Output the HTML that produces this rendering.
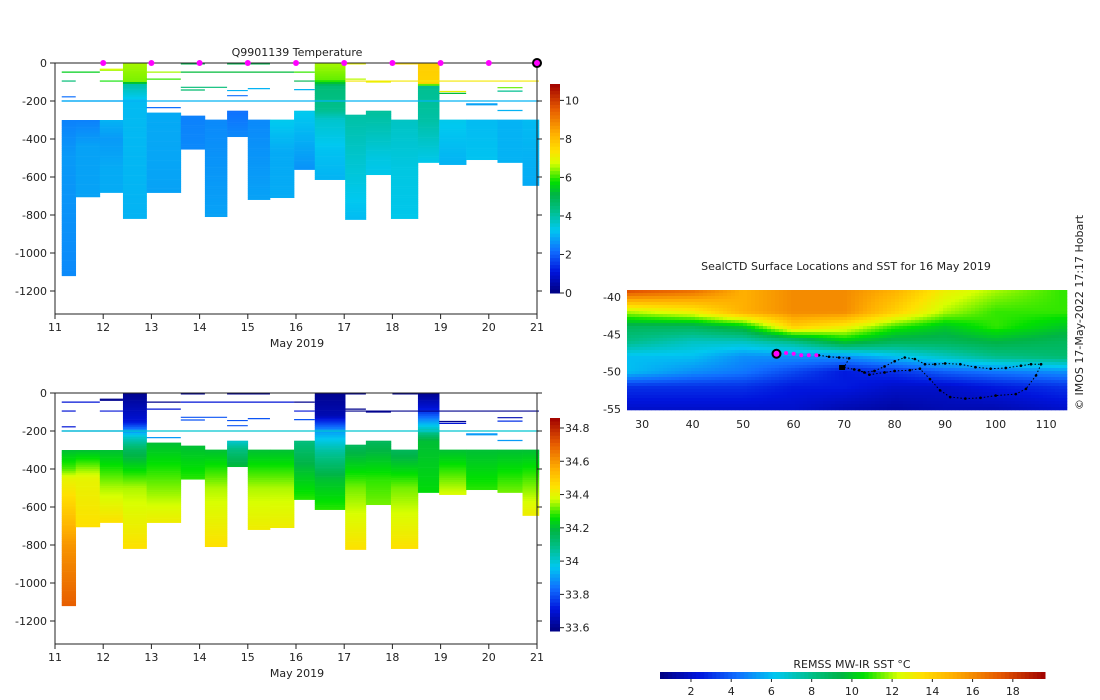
<!DOCTYPE html>
<html><head><meta charset="utf-8">
<style>
body{margin:0;background:#fff;}
svg{display:block;font-family:"DejaVu Sans","Liberation Sans",sans-serif;}
text{fill:#222;font-size:11px;}
</style></head>
<body>
<svg id="fig" width="1100" height="700" viewBox="0 0 1100 700" xmlns="http://www.w3.org/2000/svg">
<g id="top"></g>
<g id="bot"></g>
<g id="map"></g>
</svg>
<script>
// ---- profile data ----
const profStart=[11.14,11.43,11.93,12.41,12.90,13.61,14.11,14.57,15.00,15.46,15.96,16.39,17.02,17.45,17.97,18.53,18.97,19.53,20.18,20.70];
const profEnd=[11.43,11.93,12.41,12.90,13.61,14.11,14.57,15.00,15.46,15.96,16.39,17.02,17.45,17.97,18.53,18.97,19.53,20.18,20.70,21.04];
const profTemp=[
[[300,2.4],[490,2.7],[1120,2.5]],
[[300,2.4],[440,2.8],[705,2.8]],
[[300,3.0],[400,2.7],[550,2.9],[682,2.9]],
[[0,6.5],[100,6.3],[112,4],[200,3.1],[819,3.0]],
[[261,2.9],[682,2.8]],
[[277,2.4],[454,2.5]],
[[298,2.5],[809,2.8]],
[[251,2.2],[388,2.5]],
[[298,2.5],[719,2.8]],
[[298,3.3],[470,2.9],[709,2.9]],
[[251,3.3],[561,2.6]],
[[0,6.5],[90,6.2],[120,4.5],[250,4.2],[300,3.6],[450,3.2],[614,3.0]],
[[272,4.0],[500,3.6],[824,3.1]],
[[251,4.1],[500,3.4],[588,3.3]],
[[298,3.7],[550,3.4],[819,3.3]],
[[0,7.7],[110,7.6],[122,4.2],[300,4.0],[524,3.3]],
[[298,3.3],[535,3.0]],
[[298,3.1],[509,3.2]],
[[298,3.0],[524,3.0]],
[[298,3.1],[645,2.9]]];
const profSal=[
[[300,34.2],[400,34.3],[450,34.4],[800,34.6],[1120,34.7]],
[[300,34.2],[450,34.4],[705,34.45]],
[[300,34.2],[500,34.35],[682,34.45]],
[[0,33.6],[150,33.7],[230,34.0],[300,34.15],[500,34.35],[819,34.45]],
[[261,34.2],[450,34.3],[682,34.42]],
[[277,34.2],[454,34.28]],
[[298,34.2],[500,34.35],[809,34.45]],
[[251,34.0],[300,34.1],[388,34.2]],
[[298,34.2],[500,34.35],[719,34.42]],
[[298,34.2],[500,34.35],[709,34.42]],
[[251,34.1],[400,34.2],[561,34.28]],
[[0,33.6],[120,33.65],[200,33.9],[300,34.05],[450,34.2],[614,34.28]],
[[272,34.15],[500,34.32],[824,34.45]],
[[251,34.15],[450,34.28],[588,34.32]],
[[298,34.15],[500,34.32],[819,34.45]],
[[0,33.6],[80,33.7],[150,33.9],[250,34.2],[524,34.25]],
[[298,34.2],[535,34.38]],
[[298,34.2],[509,34.28]],
[[298,34.2],[524,34.32]],
[[298,34.2],[645,34.42]]];
// thin near-surface records: start day, end day, depth, temp, salinity
const lineStart=[11.14,11.93,11.93,11.93,11.14,11.14,11.14,12.9,12.9,12.9,13.61,13.61,13.61,13.61,14.57,14.57,15.0,14.57,15.96,15.96,15.96,17.02,17.02,17.45,17.02,18.97,18.97,19.53,19.53,20.18,20.18,20.18,18.0,11.14];
const lineEnd  =[11.93,12.41,12.41,12.41,11.43,11.43,12.41,13.61,13.61,13.61,14.11,15.96,14.57,14.11,15.0,15.0,15.46,15.46,16.39,16.39,16.39,17.45,17.45,17.97,21.04,19.53,19.53,20.18,20.18,20.7,20.7,20.7,18.53,21.04];
const lineDepth=[48,38,33,95,95,178,200,48,85,235,5,48,128,142,145,172,135,5,48,95,140,5,85,100,95,150,160,215,220,130,148,250,5,200];
const lineTemp =[5.5,6.5,6.8,5.8,4.5,2.2,2.2,6.5,6.0,2.2,5.0,5.2,4.5,4.6,3.0,2.2,3.0,5.0,6.0,5.0,3.0,7.0,6.6,7.0,7.2,7.0,5.2,2.8,2.8,6.2,4.2,3.0,7.5,3.0];
const lineSal  =[33.7,33.6,33.6,33.7,33.7,33.7,33.8,33.6,33.7,33.9,33.6,33.7,33.8,33.8,33.8,33.8,33.8,33.6,33.6,33.7,33.8,33.6,33.6,33.6,33.6,33.6,33.7,33.9,33.9,33.65,33.75,33.9,33.6,34.0];
const markerDays=[12,13,14,15,16,17,18,19,20,21];
const xTicks=[11,12,13,14,15,16,17,18,19,20,21];
const yTicks=[0,-200,-400,-600,-800,-1000,-1200];
const tempTicks=[0,2,4,6,8,10];
const salTicks=[33.6,33.8,34,34.2,34.4,34.6,34.8];
// ---- map data ----
const gridLon=[27,40,50,60,70,80,90,100,113];
const gridLat=[-39,-42,-44,-46,-48,-50,-52,-55];
const gridSST=[
[18,17,15,16,16,15,13,12,11],
[12,13,15,16,16,14,12,11,11],
[9,9,10,14,13,11,10,11,10],
[8,7,7,8,10,9,9,9.5,9],
[6,6,5,5,5,6,7,8,8.5],
[6,5,4.5,3.5,2.5,3,4,4.5,5],
[3,3,3,2.5,2.5,2,2,2.5,3],
[2,2,2,2,1.5,1.2,1.5,1.5,2]];
const trackLon=[65,67,69,71,70,72,74,76,78,80,82,84,86,88,90,93,96,99,102,105,107,109,108,106,104,100,97,94,91,89,87,85,83,80,78,75,73];
const trackLat=[-47.8,-48,-48.1,-48.2,-49.4,-49.7,-50.1,-49.9,-49.3,-48.6,-48.1,-48.3,-49,-49,-48.9,-49,-49.4,-49.6,-49.5,-49.2,-49,-49,-50.5,-52.3,-53,-53.2,-53.5,-53.6,-53.4,-52.5,-51,-49.6,-49.8,-49.9,-50.1,-50.4,-49.8];
const recentLon=[57,58.5,60,61.5,63,64.5];
const recentLat=[-47.6,-47.5,-47.6,-47.8,-47.8,-47.8];
const lonTicks=[30,40,50,60,70,80,90,100,110];
const latTicks=[-40,-45,-50,-55];
const sstTicks=[2,4,6,8,10,12,14,16,18];

const NS='http://www.w3.org/2000/svg';
function mk(parent,tag,attrs){const e=document.createElementNS(NS,tag);for(const k in attrs)e.setAttribute(k,attrs[k]);parent.appendChild(e);return e;}
const stops=[[0,[0,0,128]],[0.1,[0,20,220]],[0.2,[16,110,255]],[0.3,[0,200,240]],[0.4,[0,190,130]],[0.47,[0,180,70]],[0.53,[0,224,0]],[0.62,[216,255,0]],[0.68,[255,224,0]],[0.76,[255,176,0]],[0.88,[230,90,0]],[1,[160,0,0]]];
function cmap(f){f=Math.max(0,Math.min(1,f));for(let i=1;i<stops.length;i++){if(f<=stops[i][0]){const a=stops[i-1],b=stops[i];const t=(f-a[0])/(b[0]-a[0]);const c=a[1].map((v,j)=>Math.round(v+(b[1][j]-v)*t));return `rgb(${c[0]},${c[1]},${c[2]})`;}}return 'rgb(160,0,0)';}
function interp(p,d){if(d<=p[0][0])return p[0][1];for(let i=1;i<p.length;i++){if(d<=p[i][0]){const t=(d-p[i-1][0])/(p[i][0]-p[i-1][0]);return p[i-1][1]+t*(p[i][1]-p[i-1][1]);}}return p[p.length-1][1];}

function panel(g,y0,vmin,vmax,profs,lineVals,title,cbTop,cbBot,cbTicks,fmt){
  const X0=55,X1=537,Y0=y0,Y1=y0+251;
  const xs=d=>X0+(d-11)*(X1-X0)/10;
  const ys=z=>Y0+(-z)*(251/1321);
  const cf=v=>cmap((v-vmin)/(vmax-vmin));
  mk(g,'rect',{x:X0,y:Y0,width:X1-X0,height:Y1-Y0,fill:'#fff'});
  profs.forEach((p,i)=>{
    const top=p[0][0],bot=p[p.length-1][0];
    for(let d=top;d<bot;d+=10){
      const r=mk(g,'rect',{x:xs(profStart[i]),y:ys(-d),width:xs(profEnd[i])-xs(profStart[i])+0.3,height:ys(-Math.min(d+10,bot))-ys(-d)+0.3,fill:cf(interp(p,d+5))});
      
      
    }
  });
  lineStart.forEach((s,i)=>{
    const l=mk(g,'line',{x1:xs(s),x2:xs(lineEnd[i]),y1:ys(-lineDepth[i]),y2:ys(-lineDepth[i]),stroke:cf(lineVals[i]),'stroke-width':1.2});
    
    
  });
  mk(g,'rect',{x:X0,y:Y0,width:X1-X0,height:Y1-Y0,fill:'none',stroke:'#222','stroke-width':1});
  xTicks.forEach(t=>{mk(g,'line',{x1:xs(t),x2:xs(t),y1:Y1,y2:Y1+5,stroke:'#222'});const tx=mk(g,'text',{x:xs(t),y:Y1+17,'text-anchor':'middle'});tx.textContent=t;});
  yTicks.forEach(t=>{mk(g,'line',{x1:X0-5,x2:X0,y1:ys(t),y2:ys(t),stroke:'#222'});mk(g,'line',{x1:X1,x2:X1+5,y1:ys(t),y2:ys(t),stroke:'#222'});const tx=mk(g,'text',{x:X0-8,y:ys(t)+4,'text-anchor':'end'});tx.textContent=t;});
  const xl=mk(g,'text',{x:297,y:Y1+33,'text-anchor':'middle'});xl.textContent='May 2019';
  if(title){const tt=mk(g,'text',{x:297,y:Y0-7,'text-anchor':'middle','font-size':'12'});tt.textContent=title;
    markerDays.forEach((d,i)=>{const last=i===markerDays.length-1;const c=mk(g,'circle',{cx:xs(d),cy:Y0,r:last?4:3,fill:'#f0f',stroke:last?'#000':'none','stroke-width':2});});}
  const cb=mk(g,'g',{});
  const n=60;for(let i=0;i<n;i++){mk(cb,'rect',{x:550,y:cbTop+(cbBot-cbTop)*i/n,width:10,height:(cbBot-cbTop)/n+0.5,fill:cmap(1-(i+0.5)/n)});}
  const cy=v=>cbBot-(v-vmin)/(vmax-vmin)*(cbBot-cbTop);
  cbTicks.forEach(t=>{mk(cb,'line',{x1:560,x2:564,y1:cy(t),y2:cy(t),stroke:'#222'});const tx=mk(cb,'text',{x:565,y:cy(t)+4});tx.textContent=fmt(t);});
}
panel(document.getElementById('top'),63,0,10.85,profTemp,lineTemp,'Q9901139  Temperature',84,293,tempTicks,t=>t);
panel(document.getElementById('bot'),393,33.58,34.86,profSal,lineSal,null,418,631,salTicks,t=>+t.toFixed(1));

// ---- map ----
const mg=document.getElementById('map');
const mx=lon=>627+(lon-27)*5.05;
const my=lat=>297+(-40-lat)*7.47;
function bil(lon,lat){
  let i=0;while(i<gridLon.length-2&&lon>gridLon[i+1])i++;
  let j=0;while(j<gridLat.length-2&&lat<gridLat[j+1])j++;
  const tx=Math.max(0,Math.min(1,(lon-gridLon[i])/(gridLon[i+1]-gridLon[i])));
  const ty=Math.max(0,Math.min(1,(lat-gridLat[j])/(gridLat[j+1]-gridLat[j])));
  const a=gridSST[j][i],b=gridSST[j][i+1],c=gridSST[j+1][i],d=gridSST[j+1][i+1];
  return a*(1-tx)*(1-ty)+b*tx*(1-ty)+c*(1-tx)*ty+d*tx*ty;
}
const sstMin=0.46,sstMax=19.6;
for(let px=627;px<1066;px+=4){for(let py=290;py<409;py+=3){
  const lon=27+(px+2-627)/5.05,lat=-40-(py+1.5-297)/7.47;
  const v=bil(lon,lat);
  mk(mg,'rect',{x:px,y:py,width:4.3,height:3.3,fill:cmap((v-sstMin)/(sstMax-sstMin))});
}}
trackLon.forEach((lo,i)=>{const c=mk(mg,'circle',{cx:mx(lo),cy:my(trackLat[i]),r:1.3,fill:'#000'});
  if(i<trackLon.length-1){mk(mg,'line',{x1:mx(lo),y1:my(trackLat[i]),x2:mx(trackLon[i+1]),y2:my(trackLat[i+1]),stroke:'#000','stroke-width':1,'stroke-dasharray':'1.5,2'});}});
recentLon.forEach((lo,i)=>{const c=mk(mg,'circle',{cx:mx(lo),cy:my(recentLat[i]),r:2,fill:'#f0f'});});
const cur=mk(mg,'circle',{cx:mx(56.6),cy:my(-47.6),r:4,fill:'#f0f',stroke:'#000','stroke-width':2});
mk(mg,'rect',{x:mx(69),y:my(-49.1),width:6,height:5,fill:'#000'});
lonTicks.forEach(t=>{const tx=mk(mg,'text',{x:mx(t),y:428,'text-anchor':'middle'});tx.textContent=t;});
latTicks.forEach(t=>{const tx=mk(mg,'text',{x:621,y:my(t)+4,'text-anchor':'end'});tx.textContent=t;});
const mt=mk(mg,'text',{x:846,y:270,'text-anchor':'middle','font-size':'11.5'});mt.textContent='SealCTD Surface Locations and SST for 16 May 2019';
const cr=mk(mg,'text',{x:0,y:0,transform:'translate(1083,410) rotate(-90)','font-size':'9'});cr.textContent='© IMOS 17-May-2022 17:17 Hobart';
const scb=mk(mg,'g',{});
const sx=v=>660+(v-sstMin)/(sstMax-sstMin)*385;
for(let i=0;i<96;i++){mk(scb,'rect',{x:660+385*i/96,y:672,width:385/96+0.5,height:7,fill:cmap((i+0.5)/96)});}
sstTicks.forEach(t=>{mk(scb,'line',{x1:sx(t),x2:sx(t),y1:679,y2:682,stroke:'#222'});const tx=mk(scb,'text',{x:sx(t),y:695,'text-anchor':'middle'});tx.textContent=t;});
const sl=mk(mg,'text',{x:852,y:668,'text-anchor':'middle'});sl.textContent='REMSS MW-IR SST °C';
</script>
</body></html>
